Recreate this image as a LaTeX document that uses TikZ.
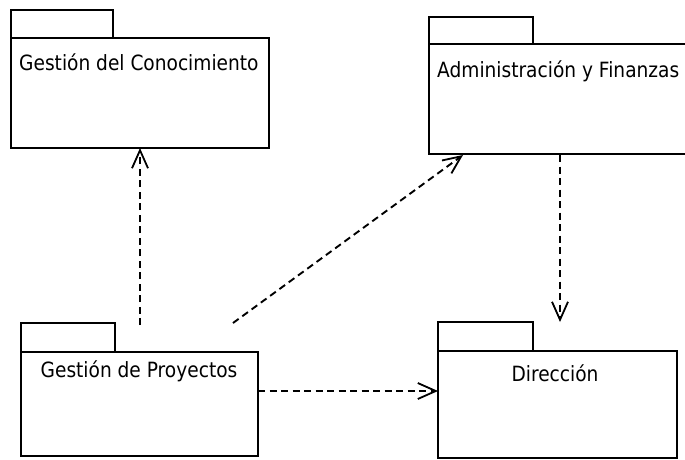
\documentclass[tikz,border=0pt]{standalone}
\usepackage{fontspec}
\setmainfont{DejaVu Sans}[FakeStretch=0.885]
\usetikzlibrary{arrows.meta}
\begin{document}
\begin{tikzpicture}[x=1pt,y=-1pt,
  pkgbody/.style={draw, line width=1.8pt, rectangle, inner sep=0pt, outer sep=0pt, anchor=north west},
  pkgtab/.style={draw, line width=1.8pt, rectangle, inner sep=0pt, outer sep=0pt, anchor=south west},
  pkglabel/.style={inner sep=0pt, font=\fontsize{21}{24}\selectfont},
  dep/.style={line width=1.9pt, dash pattern=on 7pt off 4.5pt,
    -{Straight Barb[length=18pt,width=16pt,line width=1.8pt]}}]
  \clip (0,0) rectangle (685,459);
  \fill[white] (0,0) rectangle (685,459);

  % Gestión del Conocimiento
  \node[pkgbody, minimum width=258pt, minimum height=110pt] (gc) at (11,38) {};
  \node[pkgtab, minimum width=102pt, minimum height=28pt] (gctab) at (gc.north west) {};
  \node[pkglabel, anchor=base west] (gclbl) at (19,70) {Gestión del Conocimiento};

  % Administración y Finanzas (runs past the right edge)
  \node[pkgbody, minimum width=262pt, minimum height=110pt] (af) at (429,44) {};
  \node[pkgtab, minimum width=104pt, minimum height=27pt] (aftab) at (af.north west) {};
  \node[pkglabel, anchor=base west] (aflbl) at (437,77) {Administración y Finanzas};

  % Gestión de Proyectos
  \node[pkgbody, minimum width=237pt, minimum height=104pt] (gp) at (21,352) {};
  \node[pkgtab, minimum width=94pt, minimum height=29pt] (gptab) at (gp.north west) {};
  \node[pkglabel, anchor=base] (gplbl) at (139,377) {Gestión de Proyectos};

  % Dirección
  \node[pkgbody, minimum width=239pt, minimum height=107pt] (dir) at (438,351) {};
  \node[pkgtab, minimum width=95pt, minimum height=29pt] (dirtab) at (dir.north west) {};
  \node[pkglabel, anchor=base] (dirlbl) at (555,381) {Dirección};

  % dependency end points
  \coordinate (gpup) at (140,325);
  \coordinate (gcdown) at (140,148);
  \coordinate (gpdiag) at (233,323);
  \coordinate (afdiag) at (463,155);
  \coordinate (afdown) at (560,155);
  \coordinate (dirup) at (560,322);
  \coordinate (gpright) at (258,391);
  \coordinate (dirleft) at (438,391);

  \draw[dep] (gpup) -- (gcdown);
  \draw[dep] (gpdiag) -- (afdiag);
  \draw[dep] (afdown) -- (dirup);
  \draw[dep] (gpright) -- (dirleft);
\end{tikzpicture}
\end{document}
